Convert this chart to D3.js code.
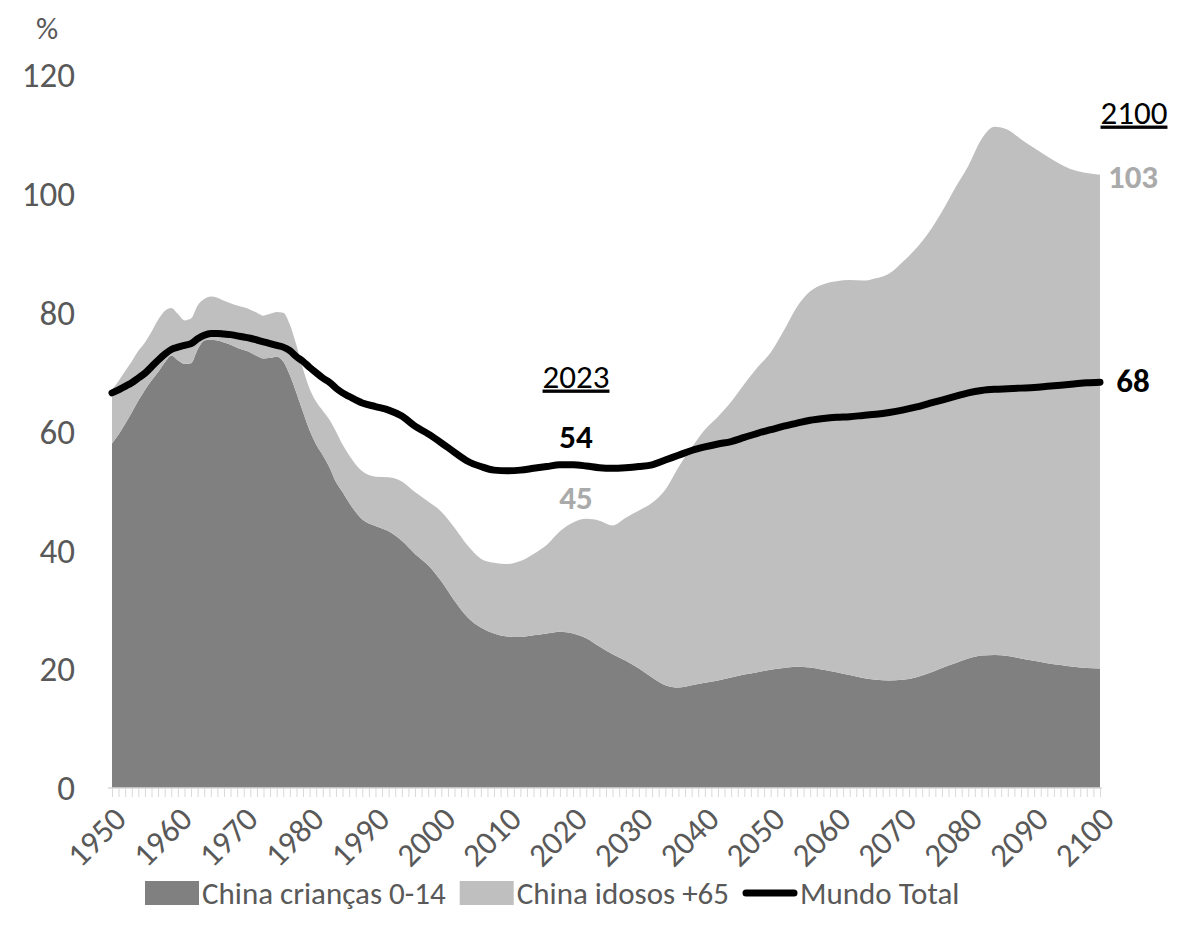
<!DOCTYPE html>
<html>
<head>
<meta charset="utf-8">
<script src="https://cdn.jsdelivr.net/npm/d3@7"></script>
<style>
  body { margin: 0; background: #fff; }
  svg { display: block; font-family: Carlito, Calibri, Lato, sans-serif; }
</style>
</head>
<body>
<svg id="chart" width="1178" height="941"></svg>
<script>
// years (yearly to 1985, then every 2 years)
var years = [1950,1951,1952,1953,1954,1955,1956,1957,1958,1959,1960,1961,1962,1963,1964,1965,1966,1967,1968,1969,
  1970,1971,1972,1973,1974,1975,1976,1977,1978,1979,1980,1981,1982,1983,1984,1985,
  1986,1988,1990,1992,1994,1996,1998,2000,2002,2004,2006,2008,2010,2012,2014,2016,2018,2020,2022,2024,2026,2028,
  2030,2032,2034,2036,2038,2040,2042,2044,2046,2048,2050,2052,2054,2056,2058,2060,2062,2064,2066,2068,
  2070,2072,2074,2076,2078,2080,2082,2084,2086,2088,2090,2092,2094,2096,2098,2100];

// China crianças 0-14
var kids = [58.0,59.5,61.3,63.2,65.2,67.0,68.6,70.0,71.6,72.8,72.0,71.4,71.5,73.8,75.3,75.5,75.3,75.0,74.6,74.1,
  73.7,73.3,72.7,72.3,72.4,72.6,71.8,69.5,66.5,63.3,60.2,57.8,56.0,54.0,51.5,49.8,
  48.0,45.2,44.1,43.2,41.6,39.4,37.5,34.8,31.5,28.7,27.0,26.0,25.5,25.4,25.7,26.0,26.3,26.0,25.2,23.8,22.5,21.4,
  20.1,18.6,17.3,16.9,17.3,17.7,18.1,18.6,19.1,19.5,19.9,20.2,20.4,20.3,19.9,19.5,19.0,18.5,18.2,18.1,
  18.2,18.6,19.3,20.2,21.0,21.8,22.3,22.4,22.2,21.8,21.4,21.0,20.7,20.4,20.2,20.1];

// China idosos +65 (stacked on top of crianças)
var elderly = [9.0,9.0,8.9,8.6,8.4,8.0,8.2,8.8,8.7,8.0,7.8,7.3,7.5,7.4,7.0,7.2,7.2,7.0,7.0,7.1,
  7.2,7.2,7.3,7.2,7.4,7.5,8.2,8.5,8.0,7.2,7.0,7.2,7.5,8.0,8.5,8.0,
  8.0,8.1,8.3,9.1,10.0,10.4,10.7,11.7,12.3,12.1,11.6,11.9,12.2,12.8,13.7,14.9,16.9,18.7,20.1,21.2,21.7,24.1,
  26.6,29.4,32.9,37.1,40.0,42.6,44.4,46.4,48.9,51.3,53.4,56.8,60.6,63.3,64.9,65.8,66.5,66.9,67.6,68.5,
  70.3,72.1,74.2,76.8,80.0,82.9,86.9,88.9,88.6,87.4,86.3,85.3,84.3,83.6,83.3,83.1];

// Mundo Total
var world = [66.5,67.0,67.6,68.2,69.0,69.8,70.9,72.0,73.0,73.8,74.2,74.5,74.8,75.6,76.2,76.5,76.5,76.4,76.3,76.1,
  75.9,75.7,75.4,75.1,74.8,74.5,74.2,73.6,72.6,71.8,70.8,69.9,69.0,68.3,67.3,66.5,
  65.9,64.8,64.2,63.6,62.6,60.9,59.6,58.1,56.5,55.0,54.1,53.5,53.4,53.5,53.8,54.1,54.4,54.4,54.2,53.9,53.8,53.9,
  54.1,54.4,55.2,56.0,56.8,57.4,57.9,58.3,59.0,59.7,60.3,60.9,61.4,61.9,62.2,62.4,62.5,62.7,62.9,63.2,
  63.6,64.1,64.7,65.3,65.9,66.5,66.9,67.1,67.2,67.3,67.4,67.6,67.8,68.0,68.2,68.3];

var yTicks = [0, 20, 40, 60, 80, 100, 120];
var xLabelYears = [1950,1960,1970,1980,1990,2000,2010,2020,2030,2040,2050,2060,2070,2080,2090,2100];
var seriesNames = ['China crianças 0-14', 'China idosos +65', 'Mundo Total'];

var svg = d3.select('#chart');
var x = d3.scaleLinear().domain([1950, 2100]).range([112, 1100]);
var y = d3.scaleLinear().domain([0, 120]).range([788, 75]);

var rows = years.map(function (yr, i) {
    return { year: yr, kids: kids[i], elderly: elderly[i], world: world[i] };
});
var stacked = d3.stack().keys(['kids', 'elderly'])(rows);
var fills = ['#808080', '#bfbfbf'];

var area = d3.area()
    .x(function (d) { return x(d.data.year); })
    .y0(function (d) { return y(d[0]); })
    .y1(function (d) { return y(d[1]); })
    .curve(d3.curveMonotoneX);

svg.selectAll('path.area').data(stacked).enter().append('path')
    .attr('class', 'area')
    .attr('d', area)
    .attr('fill', function (d, i) { return fills[i]; });

// x axis: a tick every year, label every 10
var xAxis = d3.axisBottom(x).tickValues(d3.range(1950, 2101)).tickSize(9).tickSizeOuter(0).tickFormat('');
var gx = svg.append('g').attr('transform', 'translate(0,788)').call(xAxis);
gx.select('.domain').attr('stroke', '#d9d9d9').attr('stroke-width', 1.5).attr('d', 'M108,0H1102');
gx.selectAll('.tick line').attr('stroke', '#d9d9d9');

svg.selectAll('text.xlab').data(xLabelYears).enter().append('text')
    .attr('class', 'xlab')
    .attr('transform', function (d) { return 'translate(' + (x(d) + 8) + ',813) rotate(-45)'; })
    .attr('text-anchor', 'end')
    .attr('dy', '0.35em')
    .attr('fill', '#595959')
    .attr('font-size', 33)
    .text(function (d) { return d; });

// y labels
svg.selectAll('text.ylab').data(yTicks).enter().append('text')
    .attr('class', 'ylab')
    .attr('x', 75)
    .attr('y', function (d) { return y(d); })
    .attr('dy', '0.35em')
    .attr('text-anchor', 'end')
    .attr('fill', '#595959')
    .attr('font-size', 35)
    .text(function (d) { return d; });

svg.append('text').attr('x', 47).attr('y', 28).attr('dy', '0.35em').attr('text-anchor', 'middle')
    .attr('fill', '#595959').attr('font-size', 31).text('%');

// world line
var line = d3.line()
    .x(function (d) { return x(d.year); })
    .y(function (d) { return y(d.world); })
    .curve(d3.curveMonotoneX);
svg.append('path').datum(rows).attr('d', line)
    .attr('fill', 'none').attr('stroke', '#000').attr('stroke-width', 7)
    .attr('stroke-linecap', 'round').attr('stroke-linejoin', 'round');

// annotations
function note(tx, ty, txt, weight, color, underline) {
    svg.append('text').attr('x', tx).attr('y', ty).attr('dy', '0.35em')
        .attr('text-anchor', 'middle').attr('font-size', 33)
        .attr('font-weight', weight).attr('fill', color)
        .attr('text-decoration', underline ? 'underline' : null)
        .text(txt);
}
note(576, 376, '2023', 'normal', '#000', true);
note(576, 436, '54', 'bold', '#000', false);
note(576, 497, '45', 'bold', '#aaaaaa', false);
note(1134, 112, '2100', 'normal', '#000', true);
note(1133, 176, '103', 'bold', '#aaaaaa', false);
note(1133, 380, '68', 'bold', '#000', false);

// legend, laid out left to right from measured text widths
var lg = svg.append('g');
var lx = 145;
seriesNames.forEach(function (name, i) {
    if (i < 2) {
        lg.append('rect').attr('x', lx).attr('y', 881).attr('width', 54).attr('height', 24).attr('fill', fills[i]);
    } else {
        lg.append('line').attr('x1', lx + 3).attr('x2', lx + 51).attr('y1', 893).attr('y2', 893)
            .attr('stroke', '#000').attr('stroke-width', 7).attr('stroke-linecap', 'round');
    }
    var t = lg.append('text').attr('x', lx + 57).attr('y', 893).attr('dy', '0.35em')
        .attr('font-size', 31).attr('fill', '#595959').text(name);
    lx = lx + 57 + t.node().getComputedTextLength() + 14;
});
</script>
</body>
</html>
